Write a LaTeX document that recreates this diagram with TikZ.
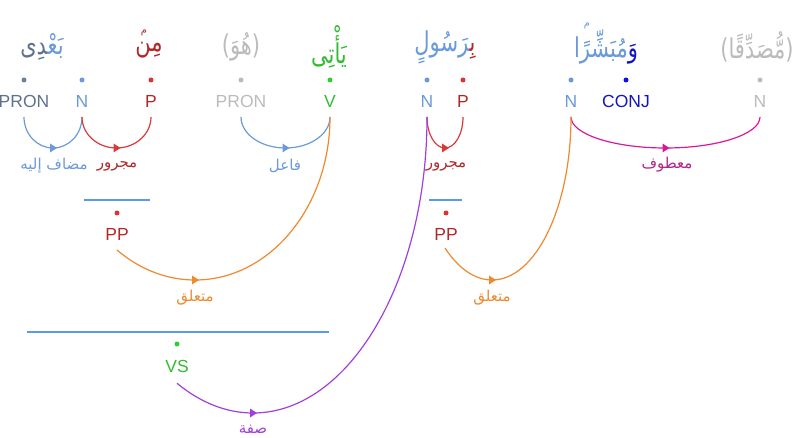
\documentclass[tikz,border=0pt]{standalone}
\usepackage{fontspec}
\setmainfont{Liberation Sans}
\newfontfamily\arabicfont[Script=Arabic]{DejaVu Sans}
\TeXXeTstate=1
\newcommand\zj{\char"200D\relax}
\newcommand\tallw[1]{\scalebox{1}[1.3]{#1}}
\definecolor{cslate}{HTML}{5E7290}
\definecolor{cslatedot}{HTML}{6E819B}
\definecolor{cnblue}{HTML}{6A9AD8}
\definecolor{cpred}{HTML}{B02828}
\definecolor{cpdot}{HTML}{DD3333}
\definecolor{cparc}{HTML}{D63A3A}
\definecolor{cgray}{HTML}{BBBBBB}
\definecolor{cgreen}{HTML}{33BB33}
\definecolor{cgreendot}{HTML}{33CC33}
\definecolor{cconj}{HTML}{1414C0}
\definecolor{cconjdot}{HTML}{1010E0}
\definecolor{cmag}{HTML}{D8189A}
\definecolor{cmaglab}{HTML}{B0248A}
\definecolor{corange}{HTML}{F0882E}
\definecolor{cpurple}{HTML}{A040DC}
\definecolor{cline}{HTML}{5A9AE8}
\begin{document}
\begin{tikzpicture}[x=1pt,y=-1pt,
  word/.style={font=\arabicfont\fontsize{21}{25}\selectfont, inner sep=0pt},
  minim/.style={font=\arabicfont\fontsize{10}{11}\selectfont, inner sep=0pt},
  postag/.style={font=\fontsize{17.5}{20}\selectfont, inner sep=0pt},
  lab/.style={font=\arabicfont\fontsize{15}{18}\selectfont, inner sep=0pt},
  dotn/.style={circle, inner sep=0pt, minimum size=5pt},
  arcl/.style={line width=1.2pt},
  hline/.style={draw=cline, line width=1.3pt}]
\useasboundingbox (0,0) rectangle (802,438);

% words
\node[word] (w1) at (42,47) {\tallw{{\color{cslate}\zj دِى}{\color{cnblue}بَعْ\zj}}};
\node[word, text=cpred] (w2) at (149,50) {\tallw{\beginR مِن\endR}};
\node[minim, text=cpred] (w2m) at (144,33) {م};
\node[word, text=cgray] (w3) at (241,47) {\tallw{\beginR(هُوَ)\endR}};
\node[word, text=cgreen] (w4) at (329,47) {\tallw{\beginR يَأْتِى\endR}};
\node[word] (w5) at (445,47) {\tallw{{\color{cnblue}\zj رَسُولٍ}{\color{cpred}بِ\zj}}};
\node[word] (w6) at (606,47) {\tallw{{\color{cnblue}مُبَشِّرًا}{\color{cconj}وَ}}};
\node[minim, text=cnblue] (w6m) at (587,26) {م};
\node[word, text=cgray] (w7) at (757,47) {\tallw{\beginR(مُّصَدِّقًا)\endR}};

% dots
\node[dotn, fill=cslatedot] (d1) at (24,80) {};
\node[dotn, fill=cnblue] (d2) at (82,80) {};
\node[dotn, fill=cpdot] (d3) at (151,80) {};
\node[dotn, fill=cgray] (d4) at (241,80) {};
\node[dotn, fill=cgreendot] (d5) at (330,80) {};
\node[dotn, fill=cnblue] (d6) at (427,80) {};
\node[dotn, fill=cpdot] (d7) at (463,80) {};
\node[dotn, fill=cnblue] (d8) at (571,80) {};
\node[dotn, fill=cconjdot] (d9) at (626,80) {};
\node[dotn, fill=cgray] (d10) at (760,80) {};

% POS tags
\node[postag, text=cslate] (p1) at (24,101) {PRON};
\node[postag, text=cnblue] (p2) at (82,101) {N};
\node[postag, text=cpred] (p3) at (151,101) {P};
\node[postag, text=cgray] (p4) at (241,101) {PRON};
\node[postag, text=cgreen] (p5) at (330,101) {V};
\node[postag, text=cnblue] (p6) at (427,101) {N};
\node[postag, text=cpred] (p7) at (463,101) {P};
\node[postag, text=cnblue] (p8) at (571,101) {N};
\node[postag, text=cconj] (p9) at (626,101) {CONJ};
\node[postag, text=cgray] (p10) at (760,101) {N};

% arc end points
\coordinate (e1) at (24,117);
\coordinate (e2) at (82,117);
\coordinate (e3) at (151,117);
\coordinate (e4) at (241,117);
\coordinate (e5) at (330,117);
\coordinate (e6) at (427,117);
\coordinate (e7) at (463,117);
\coordinate (e8) at (571,117);
\coordinate (e10) at (760,117);

% phrase nodes
\coordinate (l1a) at (84,200); \coordinate (l1b) at (150,200);
\node[dotn, fill=cpdot] (pp1d) at (117,213) {};
\node[postag, text=cpred] (pp1) at (117,234) {PP};
\coordinate (pp1t) at (117,250);
\coordinate (l2a) at (429,200); \coordinate (l2b) at (462,200);
\node[dotn, fill=cpdot] (pp2d) at (446,213) {};
\node[postag, text=cpred] (pp2) at (446,234) {PP};
\coordinate (pp2t) at (445,248);
\coordinate (l3a) at (27,332); \coordinate (l3b) at (329,332);
\node[dotn, fill=cgreendot] (vsd) at (177,344) {};
\node[postag, text=cgreen] (vs) at (177,366) {VS};
\coordinate (vst) at (177,383);

\draw[hline] (l1a) -- (l1b);
\draw[hline] (l2a) -- (l2b);
\draw[hline] (l3a) -- (l3b);

% arcs
\draw[arcl, cnblue] (e2) arc[start angle=0, end angle=-180, x radius=29pt, y radius=31pt];
\draw[arcl, cparc] (e3) arc[start angle=0, end angle=-180, x radius=34.5pt, y radius=31pt];
\draw[arcl, cnblue] (e5) arc[start angle=0, end angle=-180, x radius=44.5pt, y radius=31pt];
\draw[arcl, cparc] (e7) arc[start angle=0, end angle=-180, x radius=18pt, y radius=31pt];
\draw[arcl, cmag] (e10) arc[start angle=0, end angle=-180, x radius=94.5pt, y radius=31pt];
\draw[arcl, corange] (e5) arc[start angle=0, end angle=-125.3, x radius=135pt, y radius=163pt];
\draw[arcl, corange] (e8) arc[start angle=0, end angle=-126.5, x radius=79pt, y radius=163pt];
\draw[arcl, cpurple] (e6) arc[start angle=0, end angle=-115.9, x radius=174pt, y radius=296pt];

% arrowheads
\coordinate (m1) at (53,148);
\coordinate (m2) at (116.5,148);
\coordinate (m3) at (285.5,148);
\coordinate (m4) at (445,148);
\coordinate (m5) at (665.5,148);
\coordinate (m6) at (195,280);
\coordinate (m7) at (492,280);
\coordinate (m8) at (253,413);
\foreach \m/\c in {m1/cnblue, m2/cparc, m3/cnblue, m4/cparc, m5/cmag, m6/corange, m7/corange, m8/cpurple}
  \fill[\c, shift={(\m)}] (-3,-4.5) -- (4,0) -- (-3,4.5) -- cycle;

% labels
\node[lab, text=cnblue] (t1) at (54,166) {\beginR مضاف إليه\endR};
\node[lab, text=cpred] (t2) at (117,166) {\beginR مجرور\endR};
\node[lab, text=cnblue] (t3) at (285,166) {\beginR فاعل\endR};
\node[lab, text=cpred] (t4) at (446,166) {\beginR مجرور\endR};
\node[lab, text=cmaglab] (t5) at (667,165) {\beginR معطوف\endR};
\node[lab, text=corange] (t6) at (195,298) {\beginR متعلق\endR};
\node[lab, text=corange] (t7) at (492,298) {\beginR متعلق\endR};
\node[lab, text=cpurple] (t8) at (253,429) {\beginR صفة\endR};
\end{tikzpicture}
\end{document}
